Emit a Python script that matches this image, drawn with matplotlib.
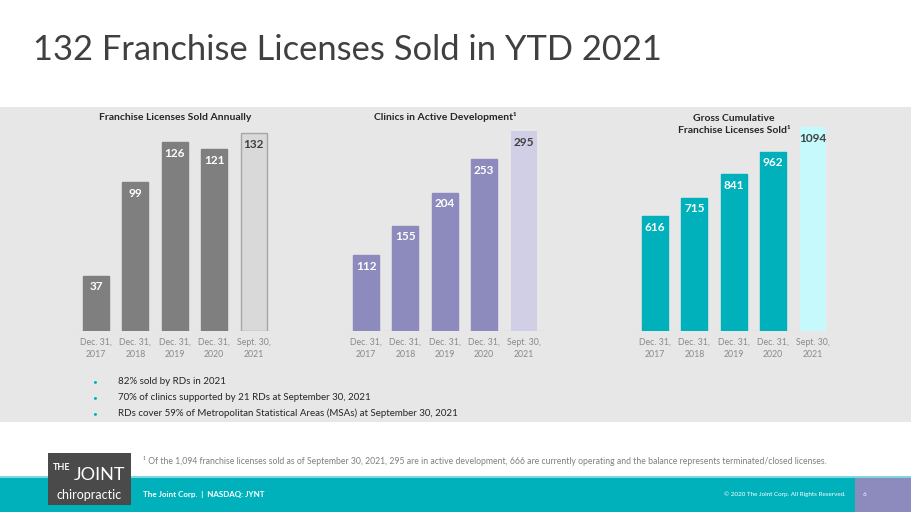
import matplotlib.pyplot as plt
from matplotlib.patches import Rectangle

plt.rcParams['font.family'] = ['Lato', 'DejaVu Sans']

# Data
periods = ['Dec. 31,\n2017', 'Dec. 31,\n2018', 'Dec. 31,\n2019', 'Dec. 31,\n2020', 'Sept. 30,\n2021']
sold_annually = [37, 99, 126, 121, 132]
active_development = [112, 155, 204, 253, 295]
gross_cumulative = [616, 715, 841, 962, 1094]

bullets = [
    '82% sold by RDs in 2021',
    '70% of clinics supported by 21 RDs at September 30, 2021',
    'RDs cover 59% of Metropolitan Statistical Areas (MSAs) at September 30, 2021',
]

W, H = 911, 512
fig = plt.figure(figsize=(W / 100, H / 100), dpi=100)
fig.patch.set_facecolor('white')


def px_rect(x0, y0, x1, y1, color, z=-1):
    """Rectangle given in pixel coords (top-left origin)"""
    fig.patches.append(Rectangle((x0 / W, 1 - y1 / H), (x1 - x0) / W, (y1 - y0) / H,
                                 transform=fig.transFigure, facecolor=color,
                                 edgecolor='none', zorder=z))


def px_text(x, y, s, **kw):
    fig.text(x / W, 1 - y / H, s, **kw)


# Backgrounds
px_rect(0, 107, W, 422, '#e7e7e7')
px_rect(0, 476, W, 478, '#7fd6dc')
px_rect(0, 478, W, H, '#00b1bc')
px_rect(855, 478, W, H, '#8d8abd')
px_rect(48, 453, 131, 505, '#4a4a4a', z=2)

# Title
px_text(33, 50, '132 Franchise Licenses Sold in YTD 2021', fontsize=24.8,
        color='#404040', va='center', ha='left')

# Charts: (data, left bar center px, px per unit, colors, title)
charts = [
    (sold_annually, 96, 1.5, '#7f7f7f', '#d9d9d9', '#a6a6a6',
     'Franchise Licenses Sold Annually', 117),
    (active_development, 366, 0.678, '#8d8abd', '#d1cfe6', 'none',
     'Clinics in Active Development¹', 117),
    (gross_cumulative, 655, 0.1865, '#00b1bc', '#c5f9fc', 'none',
     'Gross Cumulative\nFranchise Licenses Sold¹', 124.5),
]

step = 39.4
base_y = 331
top_y = 120
for vals, c0, scale, col, last_col, last_edge, title, title_y in charts:
    left = c0 - 0.6 * step
    width_px = 5.2 * step
    ax = fig.add_axes([left / W, 1 - base_y / H, width_px / W, (base_y - top_y) / H])
    ax.set_zorder(3)
    ax.set_facecolor('none')
    ax.set_xlim(-0.6, 4.6)
    ax.set_ylim(0, (base_y - top_y) / scale)
    colors = [col] * 4 + [last_col]
    edges = [col] * 4 + [last_edge]
    x = list(range(len(vals)))
    ax.bar(x, vals, width=0.66, color=colors, edgecolor=edges, linewidth=1.0, zorder=2)
    for i, v in enumerate(vals):
        tc = 'white' if i < 4 else '#404040'
        ax.annotate(str(v), (i, v), xytext=(0, -4), textcoords='offset points',
                    ha='center', va='top', fontsize=8.5, fontweight='bold', color=tc)
    ax.axhline(0, color='#c8c8c8', linewidth=0.8, zorder=1)
    for s in ax.spines.values():
        s.set_visible(False)
    ax.set_yticks([])
    ax.set_xticks(x)
    ax.set_xticklabels(periods, fontsize=6.3, color='#8a8a8a', linespacing=1.45)
    ax.tick_params(axis='x', length=0, pad=5)
    px_text(c0 + 2 * step, title_y, title, fontsize=7.5, fontweight='bold',
            color='#262626', ha='center', va='center', linespacing=1.55)

# Bullets
for i, b in enumerate(bullets):
    yy = 381.5 + i * 16
    px_text(95, yy, '•', fontsize=6, color='#00b1bc', ha='center', va='center')
    px_text(118, yy, b, fontsize=7.0, color='#262626', ha='left', va='center')

# Footnote
px_text(143, 461, '¹ Of the 1,094 franchise licenses sold as of September 30, 2021, 295 are in active '
        'development, 666 are currently operating and the balance represents terminated/closed licenses.',
        fontsize=6.2, color='#7f7f7f', ha='left', va='center')

# Logo
px_text(53, 468, 'THE', fontsize=6.5, color='white', fontweight='bold', ha='left', va='center', zorder=3)
px_text(74, 475, 'JOINT', fontsize=13, color='white', ha='left', va='center', zorder=3)
px_text(89, 495, 'chiropractic', fontsize=9, color='white', ha='center', va='center', zorder=3)

# Footer
px_text(143, 494, 'The Joint Corp.  |  NASDAQ: JYNT', fontsize=5.8, fontweight='bold',
        color='white', ha='left', va='center')
px_text(846, 494, '© 2020 The Joint Corp. All Rights Reserved.', fontsize=4.5,
        color='white', ha='right', va='center')
px_text(863, 494, '6', fontsize=4.5, color='white', ha='left', va='center')

fig.savefig('out.png', dpi=100, facecolor='white')
